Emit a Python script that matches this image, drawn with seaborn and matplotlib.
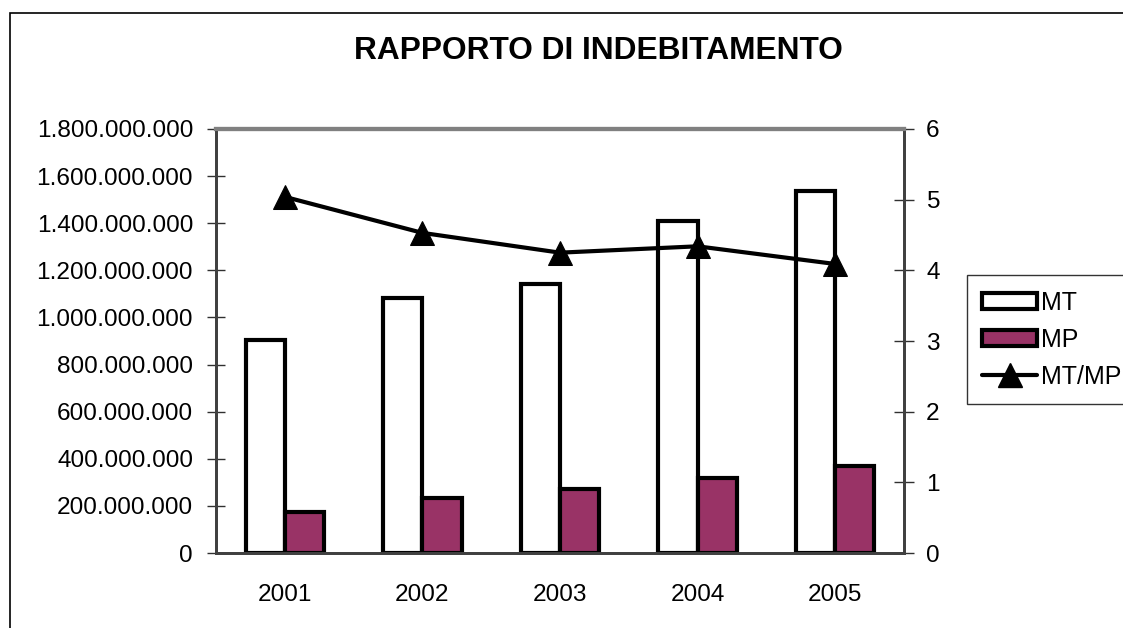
import numpy as np
import pandas as pd
import seaborn as sns
import matplotlib.pyplot as plt
from matplotlib.ticker import FuncFormatter, FixedLocator
from matplotlib.patches import Patch, Rectangle
from matplotlib.lines import Line2D

# dati
anni = ['2001', '2002', '2003', '2004', '2005']
mt = [905e6, 1081e6, 1141e6, 1411e6, 1538e6]
mp = [175e6, 235e6, 270e6, 320e6, 371e6]
mt_mp = [5.04, 4.53, 4.25, 4.34, 4.09]

sns.set_style('white', {'text.color': 'black', 'xtick.color': 'black', 'ytick.color': 'black'})
plt.rcParams['font.family'] = ['Liberation Sans', 'DejaVu Sans']

df = pd.DataFrame({
    'anno': anni * 2,
    'serie': ['MT'] * len(anni) + ['MP'] * len(anni),
    'valore': mt + mp,
})

fig = plt.figure(figsize=(11.23, 6.28), dpi=100)
ax = fig.add_axes([0.1923, 0.1194, 0.6126, 0.6752])

colori = {'MT': 'white', 'MP': '#993366'}
sns.barplot(data=df, x='anno', y='valore', hue='serie', palette=colori,
            width=0.57, gap=0, saturation=1, edgecolor='black', linewidth=3,
            legend=False, ax=ax)

ax.set_ylim(0, 1.8e9)
ax.set_yticks(np.arange(0, 1.8e9 + 1, 2e8))
ax.yaxis.set_major_formatter(FuncFormatter(lambda v, p: f'{int(v):,}'.replace(',', '.')))
ax.set_xlim(-0.5, len(anni) - 0.5)
ax.set_xlabel('')
ax.set_ylabel('')

# tacche dell'asse x tra le categorie
ax.xaxis.set_minor_locator(FixedLocator(np.arange(-0.5, len(anni), 1)))
ax.tick_params(axis='x', which='major', length=0, pad=22, labelsize=17.6)
ax.tick_params(axis='x', which='minor', direction='inout', length=16, width=1, color='#303030')
ax.tick_params(axis='y', direction='inout', length=13, width=1, pad=10,
               labelsize=17.6, color='#303030', left=True)

# asse secondario
ax2 = ax.twinx()
sns.lineplot(x=np.arange(len(anni)), y=mt_mp, color='black', linewidth=3,
             marker='^', markersize=17, markeredgecolor='black', ax=ax2)
ax2.set_ylim(0, 6)
ax2.set_yticks(range(0, 7))
ax2.tick_params(axis='y', direction='inout', length=14, width=1, pad=9,
                labelsize=17.6, color='#303030', right=True)

for a in (ax, ax2):
    for lato in ('left', 'bottom', 'right'):
        a.spines[lato].set_color('#404040')
        a.spines[lato].set_linewidth(2)
    a.spines['top'].set_color('#808080')
    a.spines['top'].set_linewidth(3)

fig.text(0.5325, 0.918, 'RAPPORTO DI INDEBITAMENTO', ha='center', va='center',
         fontsize=22.8, fontweight='bold')

handles = [
    Patch(facecolor='white', edgecolor='black', linewidth=3, label='MT'),
    Patch(facecolor='#993366', edgecolor='black', linewidth=3, label='MP'),
    Line2D([], [], color='black', linewidth=3, marker='^', markersize=17, label='MT/MP'),
]
leg = fig.legend(handles=handles, loc='upper left', bbox_to_anchor=(0.861, 0.562),
                 fontsize=18, frameon=True, fancybox=False, edgecolor='black',
                 handlelength=2.2, handleheight=0.6, handletextpad=0.15,
                 labelspacing=0.52, borderpad=0.62, borderaxespad=0)
leg.get_frame().set_linewidth(1)

# cornice esterna
fig.patches.append(Rectangle((0.009, -0.1), 1.2, 1.0793, transform=fig.transFigure,
                             fill=False, edgecolor='black', linewidth=1.2))

fig.savefig('out.png', dpi=100)
